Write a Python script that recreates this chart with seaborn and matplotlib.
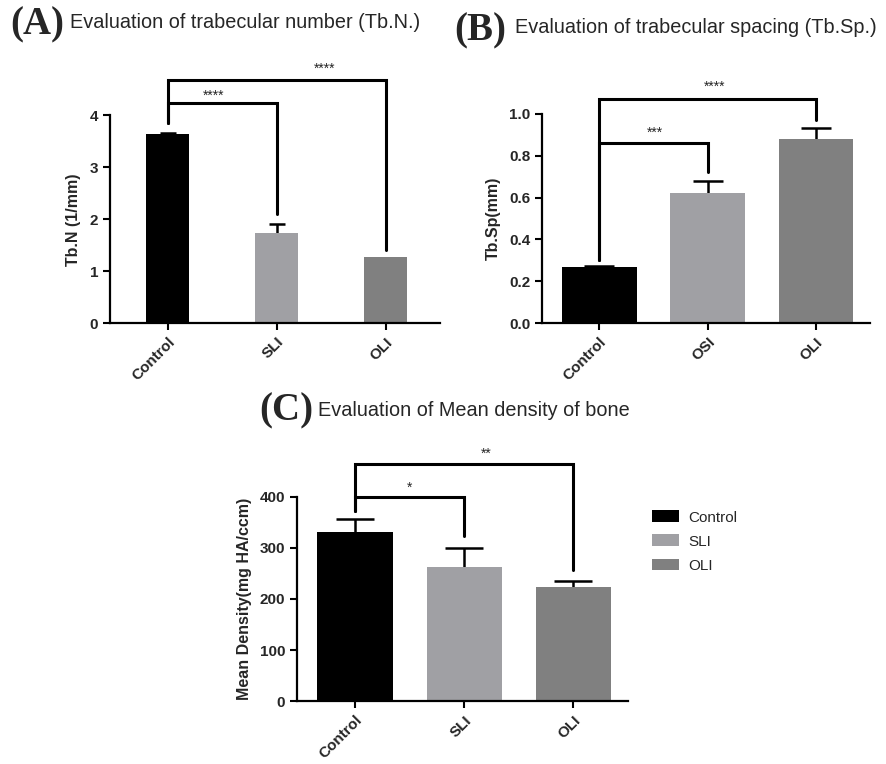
import pandas
import seaborn
import matplotlib.pyplot as plt

seaborn.set_style(style='ticks')
plt.rcParams['font.family'] = ['Liberation Sans', 'DejaVu Sans']

# data
groups_a = ['Control', 'SLI', 'OLI']
tbn_mean = [3.64, 1.74, 1.27]
tbn_err = [0.03, 0.17, 0.0]

groups_b = ['Control', 'OSI', 'OLI']
tbsp_mean = [0.27, 0.62, 0.88]
tbsp_err = [0.005, 0.06, 0.05]

groups_c = ['Control', 'SLI', 'OLI']
dens_mean = [331, 262, 224]
dens_err = [25, 38, 11]

# significance brackets: (i, j, y_left, y_bar, y_right, star_x, star_y, text)
sig_a = [(0, 1, 3.85, 4.23, 2.1, 0.42, 4.38, '****'),
         (0, 2, 3.85, 4.69, 1.4, 1.44, 4.90, '****')]
sig_b = [(0, 1, 0.30, 0.86, 0.72, 0.51, 0.91, '***'),
         (0, 2, 0.30, 1.07, 0.97, 1.06, 1.13, '****')]
sig_c = [(0, 1, 371, 400, 323, 0.50, 417, '*'),
         (0, 2, 371, 463, 256, 1.20, 484, '**')]

colors = ['#000000', '#a0a0a4', '#808080']

fig = plt.figure(figsize=(8.87, 7.64), dpi=100)
ax_a = fig.add_axes([0.124, 0.577, 0.372, 0.272])
ax_b = fig.add_axes([0.611, 0.577, 0.370, 0.274])
ax_c = fig.add_axes([0.335, 0.082, 0.373, 0.268])


def draw_panel(ax, groups, means, errs, width, capsize, ylim, yticks, yticklabels,
               ylabel, sigs, legend=False):
    df = pandas.DataFrame({'group': groups, 'value': means, 'err': errs})
    seaborn.barplot(data=df, x='group', y='value', hue='group', palette=colors,
                    width=width, errorbar=None, legend=legend, ax=ax,
                    edgecolor='none', zorder=2)
    # upper error bars only (GraphPad style)
    pos = [k for k, e in enumerate(errs) if e > 0]
    sub = df.iloc[pos]
    _, caps, _ = ax.errorbar(pos, sub['value'], yerr=[[0] * len(pos), sub['err']],
                             fmt='none', ecolor='black', elinewidth=1.8,
                             capsize=capsize, capthick=1.8, zorder=1)
    caps[0].remove()
    ax.set_xlim(-0.53, 2.5)
    ax.set_ylim(*ylim)
    ax.set_yticks(yticks)
    ax.set_yticklabels(yticklabels, fontsize=11, fontweight='bold')
    ax.set_xticks(range(len(groups)))
    ax.set_xticklabels(groups, fontsize=11, fontweight='bold', rotation=45,
                       ha='right', rotation_mode='anchor')
    ax.set_xlabel('')
    ax.set_ylabel(ylabel, fontsize=11.5, fontweight='bold', labelpad=6)
    ax.tick_params(width=1.5, length=5, color='black')
    for side in ['left', 'bottom']:
        ax.spines[side].set_linewidth(1.6)
        ax.spines[side].set_color('black')
    seaborn.despine(ax=ax)
    for i, j, yl, yb, yr, sx, sy, txt in sigs:
        ax.plot([i, i, j, j], [yl, yb, yb, yr], color='black', lw=2.2,
                clip_on=False, solid_joinstyle='miter')
        ax.text(sx, sy, txt, ha='center', va='center', fontsize=10, clip_on=False)


draw_panel(ax_a, groups_a, tbn_mean, tbn_err, 0.4, 6, (0, 4), [0, 1, 2, 3, 4],
           ['0', '1', '2', '3', '4'], 'Tb.N (1/mm)', sig_a)
draw_panel(ax_b, groups_b, tbsp_mean, tbsp_err, 0.69, 11, (0, 1),
           [0, 0.2, 0.4, 0.6, 0.8, 1.0], ['0.0', '0.2', '0.4', '0.6', '0.8', '1.0'],
           'Tb.Sp(mm)', sig_b)
draw_panel(ax_c, groups_c, dens_mean, dens_err, 0.69, 14, (0, 400),
           [0, 100, 200, 300, 400], ['0', '100', '200', '300', '400'],
           'Mean Density(mg HA/ccm)', sig_c, legend=True)
seaborn.move_legend(ax_c, 'upper left', bbox_to_anchor=(1.03, 1.0), frameon=False,
                    title=None, fontsize=11, handlelength=1.8, handleheight=0.8,
                    labelspacing=0.65, handletextpad=0.6)

# panel titles
serif = dict(family=['Liberation Serif', 'DejaVu Serif'], fontweight='bold', fontsize=28)
fig.text(0.011, 0.968, '(A)', va='center', **serif)
fig.text(0.079, 0.970, 'Evaluation of trabecular number (Tb.N.)', va='center', fontsize=14.3)
fig.text(0.512, 0.960, '(B)', va='center', **serif)
fig.text(0.581, 0.964, 'Evaluation of trabecular spacing (Tb.Sp.)', va='center', fontsize=14.3)
fig.text(0.292, 0.462, '(C)', va='center', **serif)
fig.text(0.358, 0.463, 'Evaluation of Mean density of bone', va='center', fontsize=14.3)

plt.savefig('out.png', dpi=100)
